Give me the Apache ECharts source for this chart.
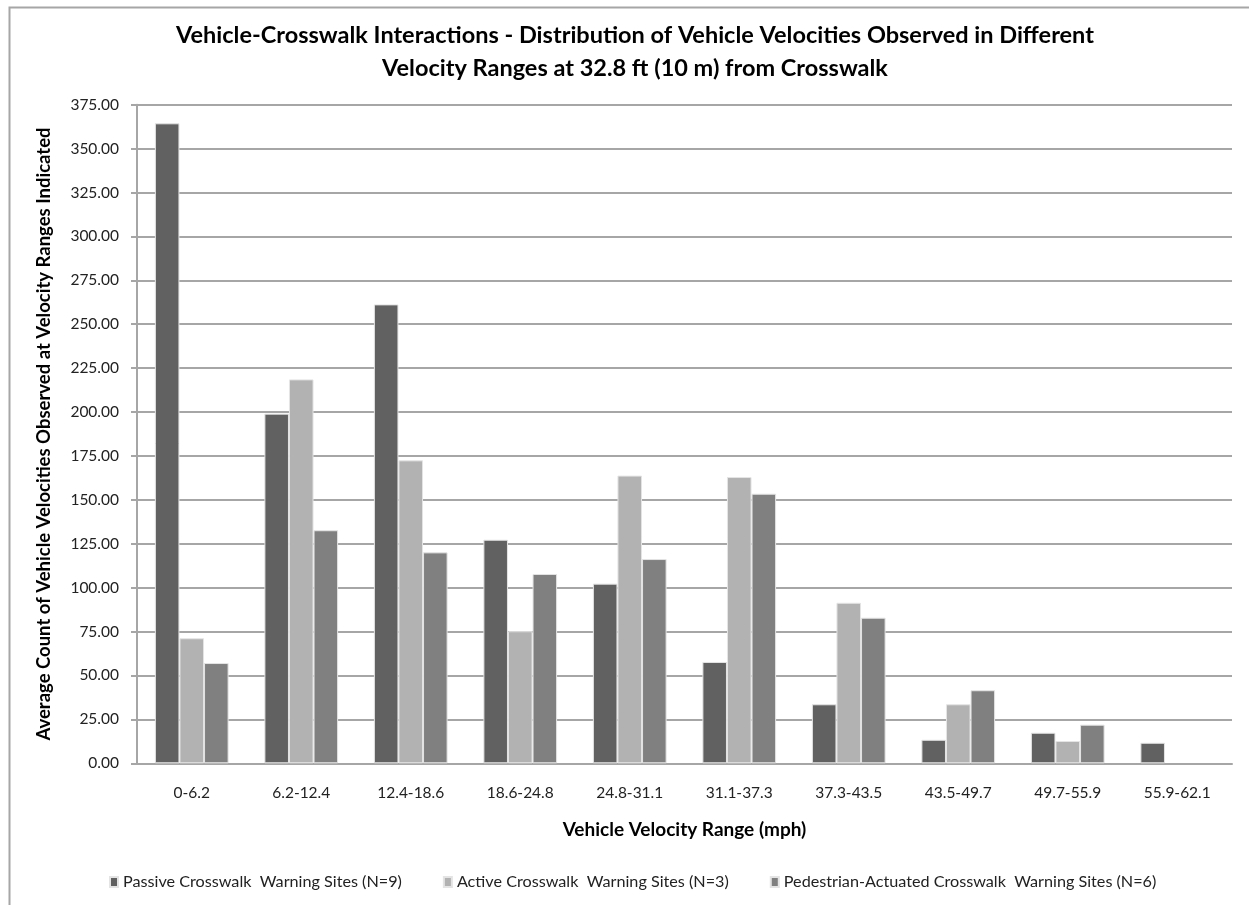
<!DOCTYPE html>
<html>
<head>
<meta charset="utf-8">
<script src="https://cdn.jsdelivr.net/npm/echarts@6/dist/echarts.min.js"></script>
<style>
html,body{margin:0;padding:0;background:#fff;}
#chart{width:1249px;height:905px;}
</style>
</head>
<body>
<div id="chart"></div>
<script>
const categories = ['0-6.2','6.2-12.4','12.4-18.6','18.6-24.8','24.8-31.1','31.1-37.3','37.3-43.5','43.5-49.7','49.7-55.9','55.9-62.1'];
const passive = [364.4, 199.1, 261.3, 127.3, 102.3, 57.7, 33.6, 13.4, 17.4, 11.7];
const active = [71.2, 218.6, 172.5, 75.2, 163.8, 163.0, 91.4, 33.6, 12.7, null];
const pedestrian = [57.1, 132.7, 120.1, 107.8, 116.3, 153.5, 82.9, 41.6, 22.0, null];
const seriesNames = ['Passive Crosswalk  Warning Sites (N=9)', 'Active Crosswalk  Warning Sites (N=3)', 'Pedestrian-Actuated Crosswalk  Warning Sites (N=6)'];
const yTicks = {min: 0, max: 375, interval: 25};

const FONT = 'Lato';
const chart = echarts.init(document.getElementById('chart'), null, {renderer: 'canvas'});
const barStyle = (c) => ({color: c, borderColor: '#e4e4e4', borderWidth: 1});
chart.setOption({
  animation: false,
  backgroundColor: '#ffffff',
  graphic: [{
    type: 'rect', left: 7, top: 5, z: 0,
    shape: {x: 0, y: 0, width: 1260, height: 920},
    style: {fill: 'none', stroke: '#a6a6a6', lineWidth: 2}
  }],
  title: {
    text: 'Vehicle-Crosswalk Interactions - Distribution of Vehicle Velocities Observed in Different\nVelocity Ranges at 32.8 ft (10 m) from Crosswalk',
    left: 630, top: 14, textAlign: 'center',
    textStyle: {fontFamily: FONT, fontWeight: 'bold', fontSize: 23.5, color: '#000', lineHeight: 33}
  },
  legend: {
    top: 869, left: 104,
    itemWidth: 8, itemHeight: 10, itemGap: 41,
    icon: 'rect',
    textStyle: {fontFamily: FONT, fontSize: 16.2, color: '#222'},
    data: seriesNames
  },
  grid: {left: 137, right: 17, top: 104.7, bottom: 141.7, containLabel: false},
  xAxis: {
    type: 'category', data: categories,
    name: 'Vehicle Velocity Range (mph)', nameLocation: 'middle', nameGap: 57,
    nameTextStyle: {fontFamily: FONT, fontWeight: 'bold', fontSize: 19, color: '#000'},
    axisLine: {lineStyle: {color: '#a6a6a6', width: 2}},
    axisTick: {show: false},
    axisLabel: {fontFamily: FONT, fontSize: 15.5, color: '#222', margin: 22}
  },
  yAxis: {
    type: 'value', min: yTicks.min, max: yTicks.max, interval: yTicks.interval,
    name: 'Average Count of Vehicle Velocities Observed at Velocity Ranges Indicated',
    nameLocation: 'middle', nameGap: 83, nameRotate: 90,
    nameTextStyle: {fontFamily: FONT, fontWeight: 'bold', fontSize: 18.5, color: '#000'},
    axisLine: {show: true, lineStyle: {color: '#a6a6a6', width: 2}},
    axisTick: {show: true, length: 6, lineStyle: {color: '#a6a6a6', width: 2}},
    axisLabel: {fontFamily: FONT, fontSize: 15.5, color: '#222', margin: 18, formatter: v => v.toFixed(2)},
    splitLine: {lineStyle: {color: '#a6a6a6', width: 2}}
  },
  series: [
    {name: seriesNames[0], type: 'bar', data: passive, barGap: '0%', barCategoryGap: '32.7%', itemStyle: barStyle('#616161')},
    {name: seriesNames[1], type: 'bar', data: active, barGap: '0%', barCategoryGap: '32.7%', itemStyle: barStyle('#b2b2b2')},
    {name: seriesNames[2], type: 'bar', data: pedestrian, barGap: '0%', barCategoryGap: '32.7%', itemStyle: barStyle('#808080')}
  ]
});
</script>
</body>
</html>
